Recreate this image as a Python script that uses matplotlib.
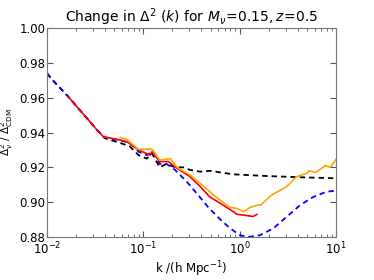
import matplotlib
matplotlib.use("Agg")
import matplotlib.pyplot as plt
import numpy as np

# log10(k) and ratio values
black_logk = [-2.0, -1.94, -1.78, -1.48, -1.40, -1.24, -1.14, -1.05, -0.965, -0.91, -0.83, -0.76, -0.67,
              -0.585, -0.515, -0.41, -0.31, -0.07, 0.28, 0.63, 1.0]
black_val = [0.974, 0.970, 0.9606, 0.9414, 0.9367, 0.934, 0.932, 0.927, 0.925, 0.928, 0.920, 0.922, 0.920,
             0.920, 0.9185, 0.9175, 0.918, 0.916, 0.915, 0.9143, 0.9137]

blue_logk = [-2.0, -1.94, -1.78, -1.48, -1.40, -1.24, -1.14, -1.05, -0.965, -0.91, -0.83, -0.76, -0.67,
             -0.55, -0.445, -0.325, -0.20, -0.10, 0.004, 0.09, 0.21, 0.35, 0.49, 0.63, 0.765, 0.90, 1.0]
blue_val = [0.974, 0.970, 0.9606, 0.9414, 0.9372, 0.9355, 0.934, 0.929, 0.927, 0.929, 0.922, 0.922, 0.9185,
            0.9118, 0.905, 0.897, 0.890, 0.885, 0.881, 0.880, 0.881, 0.885, 0.8917, 0.8984, 0.903, 0.906, 0.9066]

red_logk = [-1.78, -1.48, -1.415, -1.24, -1.17, -1.05, -0.93, -0.91, -0.83, -0.74, -0.65, -0.515, -0.41,
            -0.31, -0.20, -0.065, -0.03, 0.04, 0.11, 0.14, 0.18]
red_val = [0.9606, 0.9414, 0.9376, 0.9357, 0.9347, 0.930, 0.927, 0.929, 0.9233, 0.9233, 0.9195, 0.9146, 0.909,
           0.903, 0.8993, 0.8945, 0.893, 0.8926, 0.892, 0.8918, 0.893]

orange_logk = [-1.24, -1.17, -1.05, -0.91, -0.83, -0.72, -0.65, -0.515, -0.41, -0.31, -0.20, -0.10, -0.03,
               0.04, 0.11, 0.19, 0.22, 0.33, 0.49, 0.59, 0.70, 0.72, 0.79, 0.89, 0.94, 1.0]
orange_val = [0.9372, 0.936, 0.9303, 0.9305, 0.9242, 0.925, 0.920, 0.9156, 0.9108, 0.906, 0.901, 0.897, 0.8965,
              0.8945, 0.897, 0.8984, 0.8984, 0.904, 0.909, 0.9146, 0.9166, 0.918, 0.917, 0.921, 0.920, 0.9246]

fig = plt.figure(figsize=(3.74, 2.80), dpi=100)
ax = fig.add_axes([47/374, 1-237/280, (336-47)/374, (237-28)/280])

ax.plot(10**np.array(black_logk), black_val, color='black', ls='--', lw=1.3, dashes=(3, 2.2))
ax.plot(10**np.array(blue_logk), blue_val, color='blue', ls='--', lw=1.3, dashes=(3, 2.2))
ax.plot(10**np.array(red_logk), red_val, color='red', lw=1.2)
ax.plot(10**np.array(orange_logk), orange_val, color='orange', lw=1.2)

ax.set_xscale('log')
ax.set_xlim(1e-2, 1e1)
ax.set_ylim(0.88, 1.00)
ax.set_yticks([0.88, 0.90, 0.92, 0.94, 0.96, 0.98, 1.00])
ax.set_yticklabels(['0.88', '0.90', '0.92', '0.94', '0.96', '0.98', '1.00'])
ax.tick_params(which='both', direction='in', top=True, right=True, labelsize=8.5, color='#555555')
ax.tick_params(which='major', length=4)
ax.tick_params(axis='y', which='major', pad=1.2)
ax.tick_params(axis='x', which='major', pad=3)
ax.tick_params(which='minor', length=2)
for s in ax.spines.values():
    s.set_color('#777777')

ax.set_title(r'Change in $\Delta^2\ (k)$ for $M_\nu\!=\!0.15,z\!=\!0.5$', fontsize=10, pad=2)
ax.set_xlabel(r'k /(h Mpc$^{-1}$)', fontsize=8.5, labelpad=1)
ax.set_ylabel(r'$\Delta^2_\nu\ /\ \Delta^2_{\rm CDM}$', fontsize=7.5)
ax.yaxis.set_label_coords(-0.112, 0.5)

fig.savefig('out.png', dpi=100)
